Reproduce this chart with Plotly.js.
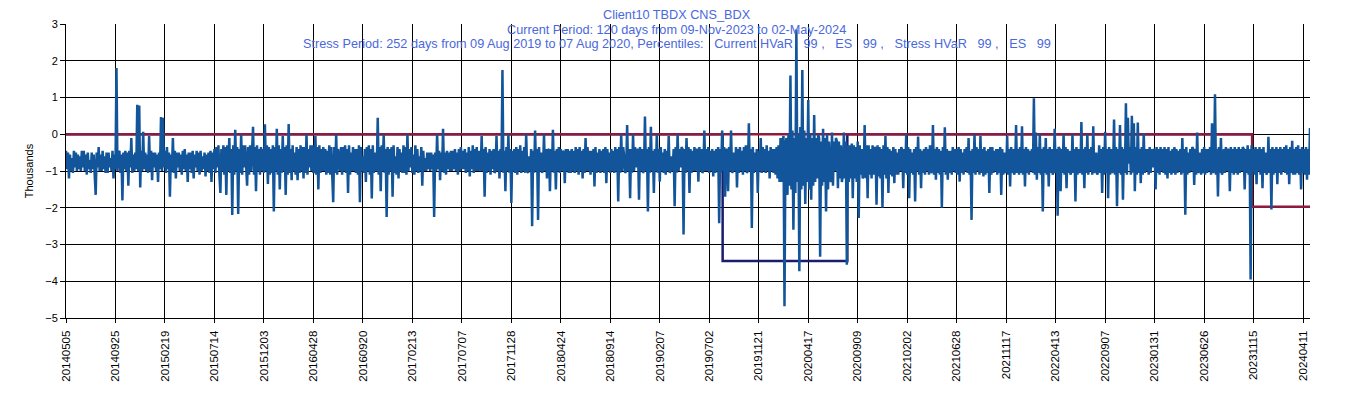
<!DOCTYPE html>
<html>
<head>
<meta charset="utf-8">
<script src="https://cdn.plot.ly/plotly-3.0.1.min.js"></script>
<style>
  html, body { margin: 0; padding: 0; background: #ffffff; }
  #chart { width: 1353px; height: 398px; }
</style>
</head>
<body>
<div id="chart"></div>
<script>
// ---------------- data ----------------
// x-axis category labels (one every 100 trading days)
const tickDates = ['20140505','20140925','20150219','20150714','20151203','20160428','20160920','20170213',
  '20170707','20171128','20180424','20180914','20190207','20190702','20191121','20200417','20200909',
  '20210202','20210628','20211117','20220413','20220907','20230131','20230626','20231115','20240411'];
const pointsPerTick = 100;
const lastPointIndex = 2514;      // 02-May-2024
const sampleStep = 2;             // P&L read every 2 trading days

// daily P&L (thousands)
const pnlThousands = [
  -0.45,-0.95,-0.5,-1.2,-0.55,-1.0,-0.65,-1.05,-0.45,-0.9,-0.5,-1.0,-0.55,-0.95,-0.6,-1.0,-0.45,-0.9,-0.45,-1.0,-0.55,-1.1,-0.5,-0.95,-0.7,-1.05,-0.5,-0.95,-0.55,-1.0,
  -1.65,-0.5,-0.9,-0.35,-1.0,-0.55,-1.0,-0.45,-0.95,-0.6,-1.05,-0.5,-1.05,-0.5,-0.9,-0.65,-1.0,-0.45,-1.2,-0.55,-0.95,1.8,-1.0,-0.5,-0.45,-1.05,-0.55,-1.8,-0.5,-0.95,
  -0.45,-1.0,-0.5,-1.4,-0.45,-0.9,-0.1,-1.05,-0.55,-1.0,-0.5,-0.95,0.8,-1.0,0.78,-1.45,-0.45,-1.0,0.07,-0.95,-0.5,-1.0,-0.55,-1.05,-0.05,-1.0,-0.45,-1.25,-0.5,-0.9,
  -0.5,-1.0,-0.55,-1.3,-0.5,-0.95,0.47,-1.0,0.45,-0.9,-0.45,-1.05,-0.35,-0.95,-0.5,-1.7,-0.55,-1.0,-0.1,-1.05,-0.45,-1.2,-0.5,-0.9,-0.5,-1.0,-0.55,-1.1,-0.45,-0.95,
  -0.4,-1.0,-0.55,-1.3,-0.5,-0.95,-0.5,-1.05,-0.45,-1.2,-0.55,-0.9,-0.45,-1.0,-0.5,-1.1,-0.45,-1.0,-0.6,-0.95,-0.5,-1.15,-0.55,-1.0,-0.5,-1.05,-0.45,-1.3,-0.5,-0.95,
  -0.4,-1.05,-0.35,-0.9,-0.3,-1.1,-1.6,-0.4,-1.0,-0.3,-1.1,-0.35,-1.65,-0.3,-1.0,-0.1,-1.05,-0.4,-2.2,-0.3,-1.1,0.12,-1.0,-0.35,-2.17,-0.4,-1.05,0.0,-1.1,-0.3,
  -0.9,-0.3,-1.0,-1.4,-0.35,-1.1,-0.3,-1.0,-0.45,0.2,-1.1,-0.35,-1.55,-0.3,-1.0,-0.4,-1.1,-0.35,-1.0,-0.4,-1.05,0.27,-1.0,-0.3,-1.35,-0.35,-1.1,-0.4,-1.05,-0.3,
  -2.1,-0.35,-1.0,0.15,-1.1,-0.3,-1.5,-0.4,-1.05,-0.05,-1.0,-0.35,-1.65,-0.3,-1.1,0.28,-1.05,-0.4,-1.25,-0.3,-1.0,-0.5,-1.1,-0.35,-1.25,-0.4,-1.05,-0.3,-1.0,-0.35,
  -1.2,-0.35,-1.05,0.0,-1.1,-0.4,-0.9,-0.3,-1.0,-0.3,-1.05,-1.0,-0.05,-1.1,-0.35,-1.5,-0.3,-1.05,-0.4,-1.0,-0.35,-1.0,-0.4,-1.1,-0.45,-1.05,-0.3,-1.1,-0.35,-1.0,
  -1.85,-0.35,-1.05,0.0,-1.1,-0.4,-0.7,-1.0,-0.35,-1.1,-0.35,-1.0,-0.3,-1.05,-0.4,-1.6,-0.3,-1.1,-0.5,-1.0,-0.35,-1.0,-0.4,-1.05,-0.4,-1.1,-0.3,-1.85,-0.35,-1.0,
  -0.6,-1.05,-0.4,-1.3,-0.35,-1.0,-0.3,-1.1,-0.4,-1.75,-0.3,-1.05,-0.5,-1.0,-0.95,0.45,-1.1,-0.35,-1.55,-0.3,-1.0,0.0,-1.05,-0.4,-2.25,-0.35,-1.1,-0.4,-1.0,-0.35,
  -1.7,-0.3,-1.05,-0.6,-1.1,-0.35,-1.2,-0.4,-1.0,-0.5,-1.05,-0.3,-1.05,-0.35,-1.1,0.0,-1.0,-0.4,-0.9,-0.35,-1.05,-0.55,-1.1,-0.3,-1.0,-0.4,-1.05,-0.6,-1.0,-0.35,
  -1.4,-0.45,-1.0,-0.65,-1.0,-0.5,-0.95,-0.5,-1.0,-0.5,-0.95,-0.55,-2.25,-0.5,-1.0,0.0,-0.95,-0.45,-1.25,-0.5,-1.0,0.15,-1.05,-0.5,-1.1,-0.45,-0.95,-0.5,-1.0,-0.45,
  -1.0,-0.45,-0.95,-0.4,-1.0,-0.5,-1.1,-0.4,-1.0,-0.35,-0.95,-0.45,-0.95,-0.4,-1.05,-0.5,-1.0,-0.35,-1.15,-0.45,-0.95,-0.3,-1.05,-0.4,-1.0,-0.35,-1.0,-0.45,-0.95,-1.0,
  -0.05,-1.0,-0.4,-1.7,-0.35,-1.05,-0.5,-1.0,-0.4,-1.1,-0.45,-0.95,-0.4,-1.05,-1.0,-0.05,-1.0,-0.45,-1.2,-0.4,-1.0,1.75,-1.05,-0.45,-1.55,-0.35,-1.0,0.0,-1.05,-0.4,
  -1.87,-0.45,-1.0,-0.4,-1.05,-0.35,-1.1,-0.4,-1.0,-0.3,-1.05,-0.45,-1.0,-0.35,-1.05,0.0,-1.0,-1.05,-0.6,-1.0,-0.4,-2.5,-0.45,-1.05,0.1,-1.0,-0.4,-2.33,-0.35,-1.0,
  -0.5,-1.05,-0.95,0.0,-1.0,-0.4,-1.2,-0.4,-0.45,-1.55,-0.4,-1.0,0.12,-1.05,-0.45,-1.5,-0.4,-1.0,-0.35,-1.05,-0.4,-1.0,-0.45,-0.5,-1.33,-0.4,-1.0,-0.4,-1.05,-0.45,
  -1.05,-0.4,-1.0,-0.45,-1.05,-0.35,-1.0,-0.4,-1.1,-0.35,-1.0,-0.45,-1.2,-0.4,-1.05,-0.1,-1.0,-0.35,-1.0,-0.45,-1.1,-0.45,-1.0,-0.4,-1.42,-0.35,-1.05,-0.5,-1.0,-0.4,
  -1.05,-0.45,-1.0,-0.4,-1.05,-0.35,-1.33,-0.4,-1.0,-0.5,-1.05,-0.4,-1.0,-0.45,-1.05,-0.35,-1.0,-0.4,-1.83,-0.35,-1.05,0.0,-1.0,-0.35,-0.6,-1.05,-1.0,0.25,-1.0,-0.4,
  -1.74,-0.4,-1.05,0.0,-1.0,-0.35,-0.9,-0.4,-0.45,-1.78,-0.35,-1.0,-0.4,-1.05,-1.0,0.48,-1.0,-0.4,-2.1,-0.35,-1.05,0.2,-1.0,-0.45,-1.6,-0.4,-1.0,0.0,-1.05,-0.4,
  -1.29,-0.35,-1.0,-0.5,-1.05,-0.4,-1.1,-0.45,-1.0,-0.05,-1.05,-1.0,-0.6,-1.0,-0.4,-1.96,-0.35,-1.05,0.0,-1.0,-0.4,-0.9,-0.35,-0.4,-2.73,-0.4,-1.05,-0.1,-1.0,-0.35,
  -1.6,-0.4,-1.05,-0.45,-1.0,-0.35,-1.0,-0.4,-0.45,-1.29,-0.35,-1.0,-0.4,-1.05,-1.0,0.1,-1.0,-0.4,-1.0,-0.35,-1.05,-0.45,-1.0,-0.4,-1.15,-0.45,-1.05,-0.4,-1.0,-0.35,
  -2.42,-0.4,-1.05,0.1,-1.0,-0.35,-1.7,-0.4,-0.45,-1.55,-0.35,-1.0,0.1,-1.05,-1.0,-0.5,-1.0,-0.35,-1.45,-0.4,-1.05,-0.35,-1.0,-0.45,-1.1,-0.35,-1.0,-0.3,-1.05,-1.0,
  0.3,-1.0,-0.4,-2.55,-0.35,-1.05,-0.5,-1.0,-0.4,-1.6,-0.45,-1.0,-0.1,-1.05,-0.35,-1.0,-0.4,-1.05,-0.3,-1.0,-0.45,-1.2,-0.35,-1.0,-0.4,-1.05,-0.4,-1.1,-0.35,-1.2,
  -0.3,-1.3,-0.1,-1.3,-0.2,-0.05,-4.68,-0.3,-0.1,-1.65,0.0,-1.4,1.6,-1.5,0.1,-2.6,-0.1,-1.6,2.85,-1.3,0.0,-3.73,0.2,-1.5,1.75,-1.4,0.1,-1.9,-0.1,-1.3,
  0.93,-1.5,0.0,-1.78,-0.1,-1.4,0.52,-1.3,-0.1,-1.2,0.0,-0.1,-3.33,-0.2,-1.4,0.15,-1.3,-0.1,-2.1,0.0,-1.5,-0.2,-1.2,-1.3,0.05,-1.4,-0.2,-1.0,-0.1,-0.2,
  -1.47,-0.2,-1.2,-0.3,-1.3,-1.1,0.05,-1.2,-0.2,-3.55,-0.3,-1.3,-0.3,-1.2,-0.25,-1.74,-0.3,-1.2,-0.35,-1.3,-0.2,-2.28,-0.3,-1.1,-0.4,-1.2,-1.1,0.25,-1.2,-0.3,
  -1.74,-0.3,-1.1,-0.4,-1.2,-0.3,-1.1,-0.35,-0.4,-1.92,-0.3,-1.15,-0.35,-1.2,-0.4,-2.0,-0.3,-1.1,-0.05,-1.2,-0.35,-1.6,-0.4,-1.1,-0.45,-1.15,-0.35,-1.33,-0.4,-1.1,
  -0.5,-1.1,-0.4,-1.0,-0.35,-0.45,-1.47,-0.4,-1.05,0.0,-1.1,-0.35,-1.74,-0.4,-1.05,-0.5,-1.1,-0.4,-1.83,-0.35,-1.0,-0.06,-1.1,-0.4,-1.47,-0.45,-1.05,-0.4,-1.1,-0.35,
  -1.0,-0.4,-1.1,-0.3,-1.05,-1.0,0.25,-1.1,-0.4,-1.24,-0.35,-1.05,-0.4,-1.1,-0.45,-2.0,-0.35,-1.0,0.19,-1.1,-0.4,-1.24,-0.45,-1.05,-0.45,-1.1,-0.35,-1.0,-0.4,-1.05,
  -0.4,-1.1,-0.35,-1.29,-0.4,-1.05,-0.5,-1.1,-0.4,-1.0,-0.35,-1.05,-0.1,-1.1,-0.45,-2.33,-0.4,-1.05,0.0,-1.1,-0.35,-1.0,-0.4,-1.1,-0.05,-1.05,-0.4,-1.15,-0.35,-1.1,
  -0.45,-1.05,-0.4,-1.6,-0.35,-1.1,-0.35,-1.05,-0.45,-1.0,-0.4,-1.1,-0.4,-1.05,-0.35,-1.65,-0.4,-1.1,-0.5,-1.05,-1.0,-0.05,-1.1,-0.4,-1.42,-0.35,-1.05,-0.4,-1.1,-1.0,
  0.25,-1.05,-0.4,-1.1,-0.35,-1.05,0.22,-1.1,-0.4,-1.42,-0.35,-1.05,-0.4,-1.1,-0.45,-1.0,-0.4,-1.05,0.98,-1.1,0.05,-1.24,-0.35,-1.05,0.0,-1.1,-0.4,-2.1,-0.35,-1.05,
  -0.1,-1.1,-0.4,-1.42,-0.35,-1.05,-0.4,-1.1,-1.0,0.15,-1.05,-0.4,-2.22,-0.35,-0.4,-1.55,-0.4,-1.05,0.0,-1.1,-0.35,-1.47,-0.4,-1.05,-0.45,-1.1,-1.0,0.0,-1.05,-0.4,
  -1.83,-0.35,-1.1,-0.4,-1.05,-1.0,0.33,-1.1,-0.4,-1.47,-0.35,-1.05,0.0,-1.1,-0.4,-1.0,-0.35,-1.1,0.22,-1.05,-1.0,-0.5,-1.1,-1.0,-0.3,-1.05,-0.4,-1.6,-0.35,-1.1,
  0.07,-1.05,-0.4,-1.74,-0.35,-1.1,-0.4,-1.05,-1.0,0.4,-1.1,-0.35,-1.96,-0.4,-1.05,0.25,-1.1,-0.35,-1.78,-0.4,-1.05,0.84,-1.1,0.45,-0.8,-0.35,-1.1,0.5,-1.05,0.3,
  -1.55,-0.35,-1.1,0.32,-1.05,-0.4,-1.33,-0.35,-1.1,0.03,-1.05,-0.4,-1.0,-0.4,-1.1,-0.35,-1.05,-0.4,-0.9,-0.4,-0.45,-1.5,-0.35,-1.05,-0.4,-1.1,-0.35,-1.0,-0.4,-1.05,
  -0.35,-1.1,-0.4,-1.2,-0.35,-1.05,-0.45,-1.1,-0.4,-1.05,-0.35,-1.1,-0.4,-1.05,-0.45,-1.0,-0.4,-1.1,-0.1,-1.05,-0.4,-2.19,-0.35,-1.1,-0.5,-1.05,-0.4,-1.0,-0.35,-0.4,
  -1.38,-0.4,-1.1,0.05,-1.05,-1.0,-0.5,-1.1,-0.4,-1.06,-0.35,-1.1,-0.4,-1.05,-0.4,-1.0,-0.35,-1.1,0.3,-1.05,-1.0,1.09,-1.1,-0.4,-1.69,-0.35,-1.05,-0.1,-1.1,-1.0,
  -0.4,-1.05,-0.35,-1.0,-0.4,-0.45,-1.55,-0.35,-1.05,-0.4,-1.1,-0.35,-1.05,-0.4,-1.1,-0.35,-1.05,-0.4,-1.0,-0.35,-0.4,-1.5,-0.4,-1.05,-0.3,-1.1,-0.4,-3.95,-0.3,-1.0,
  -0.4,-1.1,-0.35,-1.36,-0.4,-1.0,-0.35,-1.1,-0.4,-1.47,-0.35,-1.05,-0.5,-1.1,-1.0,-0.07,-1.05,-0.4,-2.05,-0.35,-1.1,-0.4,-1.05,-0.35,-1.36,-0.4,-1.05,-0.35,-1.1,-0.4,
  -1.0,-0.35,-1.05,-0.3,-1.1,-0.4,-1.36,-0.35,-1.05,-0.18,-1.1,-0.4,-1.1,-0.35,-1.05,-0.3,-1.1,-0.4,-1.5,-0.35,-1.05,-0.4,-1.1,-0.35,-1.24,-0.4,-1.1,0.17
];

// stress period (09 Aug 2019 - 07 Aug 2020) and its HVaR
const stressWindow = [1327, 1579];
const stressHVaR = [-3.45];
// history ends where the current period begins (09 Nov 2023 - 02 May 2024)
const historyEndIndex = 2396;
const currentWindow = [2397, lastPointIndex];
const currentHVaR = [-1.97];

const titleLines = [
  'Client10 TBDX CNS_BDX',
  'Current Period: 120 days from 09-Nov-2023 to 02-May-2024',
  'Stress Period: 252 days from 09 Aug 2019 to 07 Aug 2020, Percentiles:   Current HVaR   99 ,   ES   99 ,   Stress HVaR   99 ,   ES   99'
];

// ---------------- build ----------------
const pnlX = pnlThousands.map((_, i) => i * sampleStep);
const tickVals = tickDates.map((_, i) => i * pointsPerTick);

const W = 1353, H = 398;
const M = { l: 66, r: 43, t: 24, b: 80 };
const FONT = 'Arial, "Liberation Sans", sans-serif';
const BLUE = '#12559A', RED = '#8E1A3E', NAVY = '#1C1C6E', TITLE = '#4A68DD';

const stressTrace = {
  x: [0, stressWindow[0], stressWindow[1], historyEndIndex],
  y: [0, stressHVaR[0], 0, 0],
  mode: 'lines', line: { color: NAVY, width: 2.5, shape: 'hv' },
  hoverinfo: 'skip', showlegend: false
};
const currentTrace = {
  x: [0, currentWindow[0], currentWindow[1]],
  y: [0, currentHVaR[0], currentHVaR[0]],
  mode: 'lines', line: { color: RED, width: 2.5, shape: 'hv' },
  hoverinfo: 'skip', showlegend: false
};
const pnlTrace = {
  x: pnlX, y: pnlThousands,
  mode: 'lines', line: { color: BLUE, width: 2.5 },
  hoverinfo: 'skip', showlegend: false
};

const plotW = W - M.l - M.r, plotH = H - M.t - M.b;
const centerXPaper = (W / 2 - M.l) / plotW;
const titleCentersPx = [15.5, 29.8, 44];
const annotations = titleLines.map((t, i) => ({
  text: t, xref: 'paper', yref: 'paper',
  x: centerXPaper, y: (H - M.b - titleCentersPx[i]) / plotH,
  xanchor: 'center', yanchor: 'middle', showarrow: false,
  font: { family: FONT, size: 12.7, color: TITLE }
}));

const yCommon = {
  range: [-5, 3], dtick: 1, tick0: 0,
  ticks: 'outside', ticklen: 5, tickcolor: '#000', tickwidth: 1,
  showline: true, linecolor: '#000', linewidth: 1,
  zeroline: false, tickfont: { family: FONT, size: 11, color: '#000' },
  fixedrange: true
};

const layout = {
  width: W, height: H,
  margin: M,
  paper_bgcolor: '#ffffff', plot_bgcolor: '#ffffff',
  showlegend: false, hovermode: false,
  font: { family: FONT, size: 11, color: '#000' },
  xaxis: {
    range: [0, lastPointIndex],
    tickmode: 'array', tickvals: tickVals, ticktext: tickDates,
    tickangle: -90, ticks: 'outside', ticklen: 4, tickcolor: '#000',
    ticklabelstandoff: 3,
    showgrid: true, gridcolor: '#000', gridwidth: 1,
    showline: true, linecolor: '#000', linewidth: 1,
    zeroline: false, tickfont: { family: FONT, size: 11.5, color: '#000' },
    fixedrange: true
  },
  yaxis: Object.assign({}, yCommon, {
    showgrid: true, gridcolor: '#000', gridwidth: 1,
    title: { text: 'Thousands', font: { family: FONT, size: 11, color: '#000' }, standoff: 9 }
  }),
  yaxis2: Object.assign({}, yCommon, {
    overlaying: 'y', side: 'right', showgrid: false
  }),
  annotations: annotations
};

Plotly.newPlot('chart', [stressTrace, currentTrace, pnlTrace], layout,
  { displayModeBar: false, staticPlot: true });
</script>
</body>
</html>
